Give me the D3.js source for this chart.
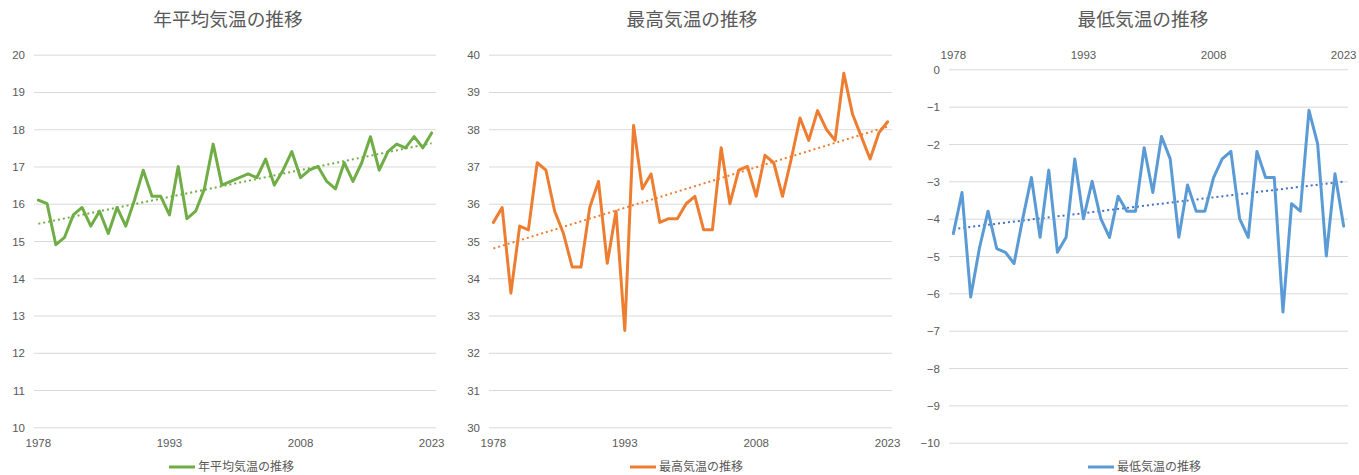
<!DOCTYPE html>
<html>
<head>
<meta charset="utf-8">
<script src="https://cdn.jsdelivr.net/npm/d3@7"></script>
<style>
  html, body { margin: 0; padding: 0; background: #fff; }
  svg { display: block; }
  text { fill: #595959; }
</style>
</head>
<body>
<svg id="chart" width="1359" height="475"></svg>
<script>
// ---- data ----
const years = d3.range(1978, 2024);
const xTickYears = [1978, 1993, 2008, 2023];

const avgTemp = [16.1,16.0,14.9,15.1,15.7,15.9,15.4,15.8,15.2,15.9,
                 15.4,16.1,16.9,16.2,16.2,15.7,17.0,15.6,15.8,16.4,
                 17.6,16.5,16.6,16.7,16.8,16.7,17.2,16.5,16.9,17.4,
                 16.7,16.9,17.0,16.6,16.4,17.1,16.6,17.1,17.8,16.9,
                 17.4,17.6,17.5,17.8,17.5,17.9];
const maxTemp = [35.5,35.9,33.6,35.4,35.3,37.1,36.9,35.8,35.2,34.3,
                 34.3,35.9,36.6,34.4,35.8,32.6,38.1,36.4,36.8,35.5,
                 35.6,35.6,36.0,36.2,35.3,35.3,37.5,36.0,36.9,37.0,
                 36.2,37.3,37.1,36.2,37.2,38.3,37.7,38.5,38.0,37.7,
                 39.5,38.4,37.8,37.2,37.9,38.2];
const minTemp = [-4.4,-3.3,-6.1,-4.8,-3.8,-4.8,-4.9,-5.2,-4.0,-2.9,
                 -4.5,-2.7,-4.9,-4.5,-2.4,-4.0,-3.0,-4.0,-4.5,-3.4,
                 -3.8,-3.8,-2.1,-3.3,-1.8,-2.4,-4.5,-3.1,-3.8,-3.8,
                 -2.9,-2.4,-2.2,-4.0,-4.5,-2.2,-2.9,-2.9,-6.5,-3.6,
                 -3.8,-1.1,-2.0,-5.0,-2.8,-4.2];

const avgTicks = d3.range(10, 21, 1);
const maxTicks = d3.range(30, 41, 1);
const minTicks = d3.range(-10, 1, 1);

const titles = ["年平均気温の推移", "最高気温の推移", "最低気温の推移"];

// ---- layout ----
const panels = [
  { values: avgTemp, ticks: avgTicks, title: titles[0], color: "#70AD47", trend: "#70AD47",
    x0: 34, x1: 436, yTop: 54.7, yBot: 427.3, domain: [10, 20], labelX: 25,
    xLabelPos: "bottom", xLabelY: 443, titleX: 228, legendX: 169 },
  { values: maxTemp, ticks: maxTicks, title: titles[1], color: "#ED7D31", trend: "#ED7D31",
    x0: 489, x1: 892, yTop: 54.7, yBot: 427.3, domain: [30, 40], labelX: 480,
    xLabelPos: "bottom", xLabelY: 443, titleX: 692, legendX: 630 },
  { values: minTemp, ticks: minTicks, title: titles[2], color: "#5B9BD5", trend: "#4472C4",
    x0: 949, x1: 1348, yTop: 69.3, yBot: 442.7, domain: [-10, 0], labelX: 940,
    xLabelPos: "top", xLabelY: 55, titleX: 1143, legendX: 1088 }
];

const svg = d3.select("#chart");
const numFont = "'Liberation Sans', Arial, sans-serif";
const jpFont = "'Noto Sans CJK JP', 'Noto Sans CJK SC', sans-serif";

function linreg(vals) {
  const n = vals.length;
  const xs = d3.range(n);
  const mx = d3.mean(xs), my = d3.mean(vals);
  let sxy = 0, sxx = 0;
  xs.forEach((x, i) => { sxy += (x - mx) * (vals[i] - my); sxx += (x - mx) * (x - mx); });
  const b = sxy / sxx, a = my - b * mx;
  return i => a + b * i;
}

panels.forEach(p => {
  const g = svg.append("g");
  const x = d3.scaleBand().domain(years).range([p.x0, p.x1]).padding(0);
  const cx = yr => x(yr) + x.bandwidth() / 2;
  const y = d3.scaleLinear().domain(p.domain).range([p.yBot, p.yTop]);

  // gridlines + y labels
  const yAxis = d3.axisLeft(y).tickValues(p.ticks).tickSize(-(p.x1 - p.x0)).tickPadding(0)
    .tickFormat(d3.format("d"));
  const ya = g.append("g").attr("transform", `translate(${p.x0},0)`).call(yAxis);
  ya.select(".domain").remove();
  ya.selectAll(".tick line").attr("stroke", "#D9D9D9").attr("stroke-width", 1);
  ya.selectAll(".tick text")
    .attr("x", p.labelX - p.x0).attr("dy", "0.35em")
    .attr("font-family", numFont).attr("font-size", "11.5px").style("fill", "#595959");

  // x labels
  const xAxis = (p.xLabelPos === "top" ? d3.axisTop(x) : d3.axisBottom(x))
    .tickValues(xTickYears).tickSize(0).tickPadding(0);
  const xa = g.append("g").attr("transform", `translate(0,${p.xLabelY})`).call(xAxis);
  xa.select(".domain").remove();
  xa.selectAll(".tick text").attr("y", 0).attr("dy", "0.35em")
    .attr("font-family", numFont).attr("font-size", "11.5px").style("fill", "#595959");

  // trend line
  const f = linreg(p.values);
  const n = p.values.length;
  g.append("line")
    .attr("x1", cx(years[0])).attr("y1", y(f(0)))
    .attr("x2", cx(years[n - 1])).attr("y2", y(f(n - 1)))
    .attr("stroke", p.trend).attr("stroke-width", 2)
    .attr("stroke-dasharray", "2,3");

  // data line
  const line = d3.line().x((d, i) => cx(years[i])).y(d => y(d));
  g.append("path").datum(p.values)
    .attr("d", line).attr("fill", "none")
    .attr("stroke", p.color).attr("stroke-width", 3)
    .attr("stroke-linejoin", "round").attr("stroke-linecap", "round");

  // title
  g.append("text").attr("x", p.titleX).attr("y", 19).attr("dy", "0.35em")
    .attr("text-anchor", "middle").attr("font-family", jpFont).attr("font-size", "18.7px")
    .style("fill", "#595959").text(p.title);

  // legend
  g.append("line").attr("x1", p.legendX).attr("x2", p.legendX + 26)
    .attr("y1", 467).attr("y2", 467).attr("stroke", p.color).attr("stroke-width", 3);
  g.append("text").attr("x", p.legendX + 29).attr("y", 467).attr("dy", "0.35em")
    .attr("font-family", jpFont).attr("font-size", "12px").style("fill", "#595959")
    .text(p.title);
});
</script>
</body>
</html>
